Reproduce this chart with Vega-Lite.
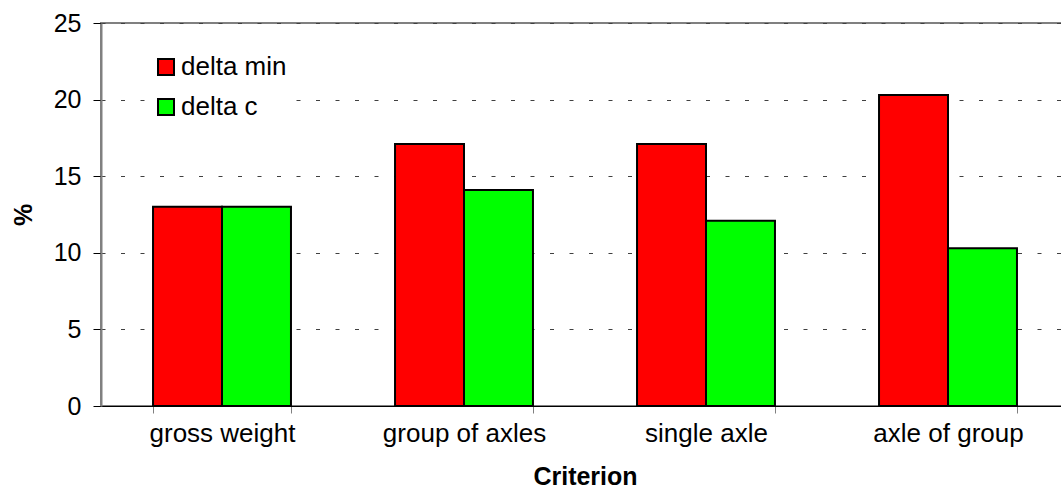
{
  "$schema": "https://vega.github.io/schema/vega-lite/v6.json",
  "width": 968,
  "height": 383,
  "autosize": {"type": "none"},
  "padding": {"left": 101, "top": 23, "right": 0, "bottom": 85},
  "background": "white",
  "config": {
    "font": "Liberation Sans",
    "view": {"stroke": "#808080", "strokeWidth": 2}
  },
  "data": {
    "values": [
      {"criterion": "gross weight", "series": "delta min", "value": 13.0},
      {"criterion": "gross weight", "series": "delta c", "value": 13.0},
      {"criterion": "group of axles", "series": "delta min", "value": 17.1},
      {"criterion": "group of axles", "series": "delta c", "value": 14.1},
      {"criterion": "single axle", "series": "delta min", "value": 17.1},
      {"criterion": "single axle", "series": "delta c", "value": 12.1},
      {"criterion": "axle of group", "series": "delta min", "value": 20.3},
      {"criterion": "axle of group", "series": "delta c", "value": 10.3}
    ]
  },
  "mark": {"type": "bar", "stroke": "black", "strokeWidth": 2},
  "encoding": {
    "x": {
      "field": "criterion",
      "type": "nominal",
      "sort": ["gross weight", "group of axles", "single axle", "axle of group"],
      "scale": {"paddingInner": 0.43, "paddingOuter": 0.215},
      "axis": {
        "title": "Criterion",
        "titleFontSize": 25,
        "titleFontWeight": "bold",
        "titleColor": "black",
        "titlePadding": 18,
        "labelFontSize": 26,
        "labelColor": "black",
        "labelAngle": 0,
        "labelPadding": 7,
        "tickBand": "extent",
        "tickColor": "#808080",
        "tickSize": 7,
        "domainColor": "black",
        "domainWidth": 1
      }
    },
    "xOffset": {"field": "series", "sort": ["delta min", "delta c"]},
    "y": {
      "field": "value",
      "type": "quantitative",
      "scale": {"domain": [0, 25], "nice": false},
      "axis": {
        "title": "%",
        "titleFontSize": 25,
        "titleFontWeight": "bold",
        "titleColor": "black",
        "titlePadding": 17,
        "values": [0, 5, 10, 15, 20, 25],
        "labelFontSize": 25,
        "labelColor": "black",
        "labelPadding": 12,
        "tickColor": "black",
        "tickSize": 8,
        "domainColor": "#808080",
        "domainWidth": 2,
        "gridColor": "#404040",
        "gridDash": [4, 15.5],
        "gridWidth": 1
      }
    },
    "color": {
      "field": "series",
      "type": "nominal",
      "scale": {"domain": ["delta min", "delta c"], "range": ["#ff0000", "#00ff00"]},
      "legend": {
        "title": null,
        "orient": "none",
        "legendX": 46,
        "legendY": 25,
        "padding": 6,
        "fillColor": "white",
        "symbolType": "square",
        "symbolSize": 256,
        "symbolStrokeColor": "black",
        "symbolStrokeWidth": 2,
        "symbolOpacity": 1,
        "labelFontSize": 26,
        "labelColor": "black",
        "labelOffset": 2,
        "rowPadding": 14
      }
    }
  }
}
